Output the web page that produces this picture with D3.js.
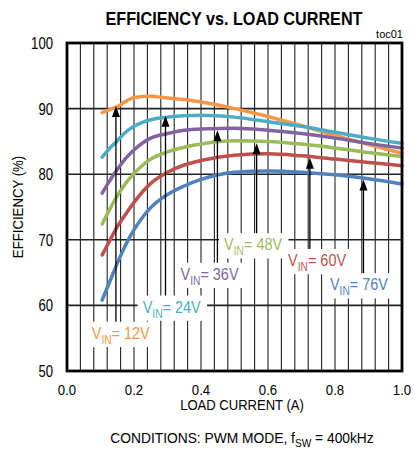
<!DOCTYPE html>
<html lang="en">
<head>
<meta charset="utf-8">
<title>Efficiency vs. Load Current</title>
<script src="https://cdn.jsdelivr.net/npm/d3@7"></script>
<style>
  body { margin: 0; background: #fff; }
  text { font-family: "Liberation Sans", Arial, sans-serif; }
</style>
</head>
<body>
<script>
// load current (A), shared by all curves
var loadCurrent = [0.105, 0.125, 0.15, 0.175, 0.2, 0.25, 0.3, 0.35, 0.4, 0.5, 0.6, 0.7, 0.8, 0.9, 1.0];

// efficiency (%) per input voltage
var eff12 = [89.4, 89.8, 90.3, 91.1, 91.7, 91.9, 91.6, 91.4, 91.0, 90.0, 88.8, 87.4, 85.9, 84.5, 83.2];
var eff24 = [82.6, 83.8, 85.1, 86.4, 87.3, 88.3, 88.7, 88.9, 89.0, 88.7, 88.0, 87.3, 86.4, 85.5, 84.7];
var eff36 = [77.1, 78.8, 80.7, 82.4, 83.7, 85.5, 86.2, 86.7, 86.9, 87.0, 86.7, 86.2, 85.5, 84.7, 84.0];
var eff48 = [72.4, 74.4, 76.7, 78.6, 80.1, 82.3, 83.4, 84.1, 84.6, 85.1, 85.0, 84.6, 84.0, 83.3, 82.7];
var eff60 = [67.7, 69.6, 72.0, 73.9, 75.7, 78.6, 80.3, 81.4, 82.1, 82.9, 83.1, 82.8, 82.3, 81.8, 81.3];
var eff76 = [60.8, 63.3, 66.4, 69.2, 71.5, 74.9, 76.9, 78.2, 79.2, 80.3, 80.5, 80.3, 79.9, 79.3, 78.5];

var vinLabels = ["12V", "24V", "36V", "48V", "60V", "76V"];
var colors = ["#f79646", "#4bacc6", "#8064a2", "#9bbb59", "#c0504d", "#4f81bd"];

// annotation arrows: x (A), tip (%), and label anchor (A, %)
var arrowX   = [0.146, 0.294, 0.449, 0.566, 0.725, 0.885];
var arrowTip = [90.4, 88.9, 86.7, 84.7, 82.5, 79.2];
var labelX   = [0.074, 0.226, 0.339, 0.469, 0.660, 0.785];
var labelY   = [54.9, 58.9, 63.9, 68.4, 66.0, 62.3];

var xTicks = [0, 0.2, 0.4, 0.6, 0.8, 1.0];
var yTicks = [50, 60, 70, 80, 90, 100];

var w = 414, h = 450;
var svg = d3.select("body").append("svg").attr("width", w).attr("height", h);

var x = d3.scaleLinear().domain([0, 1]).range([67, 402]);
var y = d3.scaleLinear().domain([50, 100]).range([371, 43]);

// text squeezed horizontally to look like a narrow face
function narrow(sel, px, py, sx, rot) {
  return sel.append("text")
     .attr("transform", "translate(" + px + "," + py + ")" + (rot ? " rotate(" + rot + ")" : "") + " scale(" + sx + ",1)");
}

// vertical grid every 0.04 A
svg.append("g").selectAll("line")
   .data(d3.range(1, 25).map(function(i) { return i * 0.04; }))
   .enter().append("line")
   .attr("x1", function(d) { return x(d); })
   .attr("x2", function(d) { return x(d); })
   .attr("y1", y(100)).attr("y2", y(50))
   .attr("stroke", "#222").attr("stroke-width", 1.1);

// horizontal grid
svg.append("g").selectAll("line")
   .data([60, 70, 80, 90])
   .enter().append("line")
   .attr("x1", x(0)).attr("x2", x(1))
   .attr("y1", function(d) { return y(d); })
   .attr("y2", function(d) { return y(d); })
   .attr("stroke", "#222").attr("stroke-width", 1.6);

// curves
var series = [eff12, eff24, eff36, eff48, eff60, eff76];
var line = d3.line()
   .x(function(d, i) { return x(loadCurrent[i]); })
   .y(function(d) { return y(d); })
   .curve(d3.curveMonotoneX);

svg.append("g").selectAll("path")
   .data(series)
   .enter().append("path")
   .attr("d", line)
   .attr("fill", "none")
   .attr("stroke", function(d, i) { return colors[i]; })
   .attr("stroke-width", 3.5)
   .attr("stroke-linecap", "round");

// arrows
var arrows = svg.append("g");
arrowX.forEach(function(ax, i) {
  var px = x(ax), tip = y(arrowTip[i]);
  arrows.append("line")
     .attr("x1", px).attr("x2", px)
     .attr("y1", tip + 8).attr("y2", y(labelY[i]) - 4)
     .attr("stroke", "#000").attr("stroke-width", 1.3);
  arrows.append("path")
     .attr("d", "M" + px + "," + tip + "L" + (px - 4) + "," + (tip + 11) + "L" + (px + 4) + "," + (tip + 11) + "Z")
     .attr("fill", "#000");
});

// labels with white boxes
vinLabels.forEach(function(lab, i) {
  var g = svg.append("g");
  var t = narrow(g, x(labelX[i]), y(labelY[i]), 0.85)
     .attr("font-size", 17).attr("fill", colors[i]);
  t.append("tspan").text("V");
  t.append("tspan").attr("font-size", 12).attr("dy", 5).text("IN");
  t.append("tspan").attr("dy", -5).text("= " + lab);
  var b = t.node().getBBox();
  g.insert("rect", "text")
     .attr("transform", t.attr("transform"))
     .attr("x", b.x - 6).attr("y", b.y - 2)
     .attr("width", b.width + 13).attr("height", b.height + 3)
     .attr("fill", "#fff");
});

// frame
svg.append("rect")
   .attr("x", x(0)).attr("y", y(100))
   .attr("width", x(1) - x(0)).attr("height", y(50) - y(100))
   .attr("fill", "none").attr("stroke", "#000").attr("stroke-width", 2.8);

// tick labels
yTicks.forEach(function(d) {
  narrow(svg, 53, y(d) + 6, 0.82)
     .attr("text-anchor", "end").attr("font-size", 16)
     .text(d);
});

xTicks.forEach(function(d) {
  narrow(svg, x(d), 395, 0.88)
     .attr("text-anchor", "middle").attr("font-size", 15)
     .text(d.toFixed(1));
});

// titles
narrow(svg, 234, 25, 0.9)
   .attr("text-anchor", "middle")
   .attr("font-size", 18).attr("font-weight", "bold")
   .text("EFFICIENCY vs. LOAD CURRENT");

svg.append("text")
   .attr("x", 403).attr("y", 38).attr("text-anchor", "end")
   .attr("font-size", 11).text("toc01");

narrow(svg, 242, 410, 0.9)
   .attr("text-anchor", "middle").attr("font-size", 14.5)
   .text("LOAD CURRENT  (A)");

narrow(svg, 23, 207, 0.88, -90)
   .attr("text-anchor", "middle").attr("font-size", 15)
   .text("EFFICIENCY (%)");

var cond = narrow(svg, 242, 443, 0.92)
   .attr("text-anchor", "middle").attr("font-size", 15);
cond.append("tspan").text("CONDITIONS:  PWM MODE, f");
cond.append("tspan").attr("font-size", 11).attr("dy", 4).text("SW");
cond.append("tspan").attr("dy", -4).text(" = 400kHz");
</script>
</body>
</html>
